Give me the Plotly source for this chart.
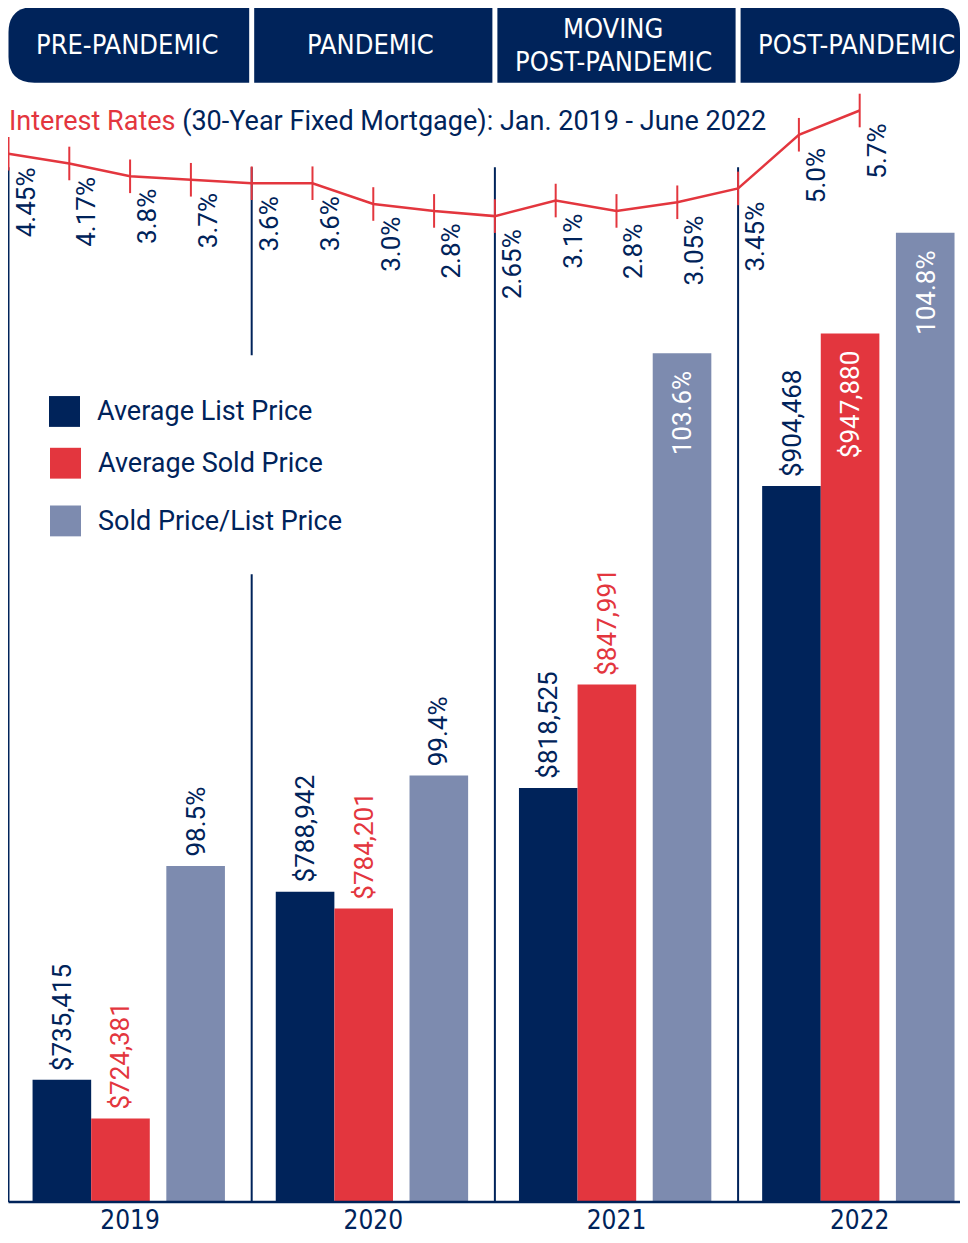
import plotly.graph_objects as go

# ---------------- data ----------------
years = ["2019", "2020", "2021", "2022"]
period_names = ["PRE-PANDEMIC", "PANDEMIC", "MOVING<br>POST-PANDEMIC", "POST-PANDEMIC"]
avg_list_price = [735415, 788942, 818525, 904468]
avg_sold_price = [724381, 784201, 847991, 947880]
sold_to_list = [98.5, 99.4, 103.6, 104.8]
rate_periods = ["Jan 2019", "Apr 2019", "Jul 2019", "Oct 2019",
                "Jan 2020", "Apr 2020", "Jul 2020", "Oct 2020",
                "Jan 2021", "Apr 2021", "Jul 2021", "Oct 2021",
                "Jan 2022", "Apr 2022", "Jun 2022"]
rates = [4.45, 4.17, 3.8, 3.7, 3.6, 3.6, 3.0, 2.8, 2.65, 3.1, 2.8, 3.05, 3.45, 5.0, 5.7]
rate_labels = ["4.45%", "4.17%", "3.8%", "3.7%", "3.6%", "3.6%", "3.0%", "2.8%",
               "2.65%", "3.1%", "2.8%", "3.05%", "3.45%", "5.0%", "5.7%"]
series_names = ["Average List Price", "Average Sold Price", "Sold Price/List Price"]

# ---------------- style ----------------
NAVY = "#00235A"
RED = "#E3363E"
GRAY = "#7D8BAF"
WHITE = "#FFFFFF"
NARROW = "Liberation Sans Narrow, Arial Narrow, DejaVu Sans Condensed, Roboto, sans-serif"
MAIN = "Roboto, Noto Sans, sans-serif"

PAGE_OFF = 8                 # page body margin
W, H = 968 - 2 * PAGE_OFF, 1243 - 2 * PAGE_OFF
PH = 1200                    # plot height in px (baseline at 1200 in figure)
MB = H - PH
PX_PER_UNIT = 243.2

X_RANGE = [-0.502, -0.502 + W / PX_PER_UNIT]
PRICE_RANGE = [700632, 1040575]
RATIO_RANGE = [95.156, 107.035]
RATE_RANGE = [-25.82, 8.66]

BAR_W = 0.241
OFFSETS = [-0.401, -0.160, 0.149]
COLORS = [NAVY, RED, GRAY]
OUT_TEXT = [NAVY, RED, NAVY]


def sy(s):
    """screen row -> paper y"""
    return 1 - (s - PAGE_OFF) / PH


def sx(s):
    """screen column -> paper x"""
    return (s - PAGE_OFF) / W


def sdx(s):
    """screen column -> x data"""
    return X_RANGE[0] + (s - PAGE_OFF) / PX_PER_UNIT


x_idx = list(range(len(years)))
rate_x = [k / 4 - 0.5 for k in range(len(rates))]

fig = go.Figure()

series_vals = [avg_list_price, avg_sold_price, sold_to_list]
series_axes = ["y", "y", "y2"]
for name, vals, col, off, ax in zip(series_names, series_vals, COLORS, OFFSETS, series_axes):
    fig.add_trace(go.Bar(x=x_idx, y=vals, name=name, marker=dict(color=col, line=dict(width=0)),
                         width=BAR_W, offset=off, yaxis=ax, showlegend=False, hoverinfo="skip"))

fig.add_trace(go.Scatter(x=rate_x, y=rates, yaxis="y3", mode="lines+markers", name="Interest Rates",
                         line=dict(color=RED, width=2.5),
                         marker=dict(symbol="line-ns", size=24, line=dict(color=RED, width=2)),
                         cliponaxis=False, showlegend=False, hoverinfo="skip"))

annotations = []
shapes = []

# bar value labels
ranges = {"y": PRICE_RANGE, "y2": RATIO_RANGE}
for s, (vals, off, col, ax) in enumerate(zip(series_vals, OFFSETS, OUT_TEXT, series_axes)):
    lo, hi = ranges[ax]
    for i, v in enumerate(vals):
        txt = f"${v:,.0f}" if ax == "y" else f"{v:.1f}%"
        inside = (v - lo) / (hi - lo) > 0.66
        annotations.append(dict(
            x=i + off + BAR_W / 2, y=v, xref="x", yref=ax, text=txt, showarrow=False,
            textangle=-90, xanchor="center", yanchor="top" if inside else "bottom",
            yshift=-16 if inside else 7,
            font=dict(family=MAIN, size=26, color=WHITE if inside else col)))

# interest rate labels
for xv, r, lab in zip(rate_x, rates, rate_labels):
    annotations.append(dict(x=xv, y=r, xref="x", yref="y3", text=lab, showarrow=False,
                            textangle=-90, xanchor="center", yanchor="top",
                            xshift=17, yshift=-11,
                            font=dict(family=MAIN, size=26, color=NAVY)))

# title of the rates line
annotations.append(dict(
    x=sx(7), y=sy(122), xref="paper", yref="paper", xanchor="left", yanchor="middle",
    showarrow=False,
    text=f"<span style='color:{RED}'>Interest Rates</span> (30-Year Fixed Mortgage): Jan. 2019 - June 2022",
    font=dict(family=MAIN, size=27, color=NAVY)))

# header band
yt, yb = sy(7), sy(83)
gap = 2.5 / PX_PER_UNIT
rx, ry = 26 / PX_PER_UNIT, 26 / PH
x_right = X_RANGE[1]
for i, name in enumerate(period_names):
    x0 = i - 0.5 + (gap if i > 0 else 0)
    x1 = i + 0.5 - gap if i < len(period_names) - 1 else x_right
    if i == 0:
        path = (f"M {x0+rx},{yt} L {x1},{yt} L {x1},{yb} L {x0+rx},{yb} "
                f"Q {x0},{yb} {x0},{yb+ry} L {x0},{yt-ry} Q {x0},{yt} {x0+rx},{yt} Z")
    elif i == len(period_names) - 1:
        path = (f"M {x0},{yt} L {x1-rx},{yt} Q {x1},{yt} {x1},{yt-ry} L {x1},{yb+ry} "
                f"Q {x1},{yb} {x1-rx},{yb} L {x0},{yb} Z")
    else:
        path = f"M {x0},{yt} L {x1},{yt} L {x1},{yb} L {x0},{yb} Z"
    shapes.append(dict(type="path", path=path, xref="x", yref="paper",
                       fillcolor=NAVY, line=dict(width=0), layer="above"))
    lines = name.split("<br>")
    n = len(lines)
    for j, ln in enumerate(lines):
        annotations.append(dict(x=i, y=(yt + yb) / 2, xref="x", yref="paper", text=ln,
                                showarrow=False, xanchor="center", yanchor="middle",
                                xshift=-3, yshift=(n - 1) / 2 * 33 - j * 33,
                                font=dict(family=NARROW, size=27, color=WHITE)))

# period dividers
div_top = sy(168)
leg_top, leg_bot = sy(357), sy(577)
for i in range(len(years)):
    xd = i - 0.5
    if i == 1:
        segs = [(0, leg_bot), (leg_top, div_top)]
    else:
        segs = [(0, div_top)]
    for y0, y1 in segs:
        shapes.append(dict(type="line", xref="x", yref="paper", x0=xd, x1=xd, y0=y0, y1=y1,
                           line=dict(color=NAVY, width=2), layer="below"))

# baseline
shapes.append(dict(type="line", xref="x", yref="paper", x0=-0.5, x1=X_RANGE[1], y0=0, y1=0,
                   line=dict(color=NAVY, width=2.5), layer="above"))

# custom legend
leg_rows = [(398, 429, 49), (450, 481, 50), (508, 539, 50)]
for (t, b, l), name, col in zip(leg_rows, series_names, COLORS):
    shapes.append(dict(type="rect", xref="paper", yref="paper",
                       x0=sx(l), x1=sx(l + 31), y0=sy(b), y1=sy(t),
                       fillcolor=col, line=dict(width=0)))
    annotations.append(dict(x=sx(l + 46), y=sy((t + b) / 2), xref="paper", yref="paper",
                            text=name, showarrow=False, xanchor="left", yanchor="middle",
                            font=dict(family=MAIN, size=27, color=NAVY)))

fig.update_layout(
    width=W, height=H, margin=dict(l=0, r=0, t=0, b=MB),
    paper_bgcolor=WHITE, plot_bgcolor=WHITE, barmode="overlay", showlegend=False,
    xaxis=dict(range=X_RANGE, tickvals=x_idx, ticktext=years, showgrid=False, zeroline=False,
               showline=False, ticks="", tickfont=dict(family=NARROW, size=26, color=NAVY),
               fixedrange=True),
    yaxis=dict(range=PRICE_RANGE, visible=False, fixedrange=True),
    yaxis2=dict(range=RATIO_RANGE, overlaying="y", visible=False, fixedrange=True),
    yaxis3=dict(range=RATE_RANGE, overlaying="y", visible=False, fixedrange=True),
    annotations=annotations, shapes=shapes,
)

fig.write_html("out.html")
